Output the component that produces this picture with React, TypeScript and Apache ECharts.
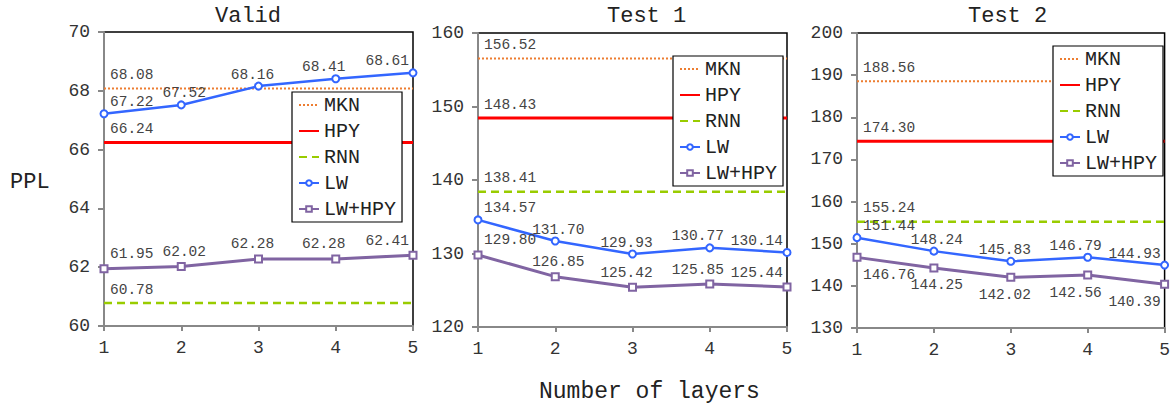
import React, { useEffect, useRef } from "react";
import * as echarts from "echarts";

const layers = ["1", "2", "3", "4", "5"];
const panelTitles = ["Valid", "Test 1", "Test 2"];
const seriesNames = ["MKN", "HPY", "RNN", "LW", "LW+HPY"];

// baselines per panel [Valid, Test 1, Test 2]
const mkn = [68.08, 156.52, 188.56];
const hpy = [66.24, 148.43, 174.3];
const rnn = [60.78, 138.41, 155.24];

const lwValid = [67.22, 67.52, 68.16, 68.41, 68.61];
const lwTest1 = [134.57, 131.7, 129.93, 130.77, 130.14];
const lwTest2 = [151.44, 148.24, 145.83, 146.79, 144.93];

const lwHpyValid = [61.95, 62.02, 62.28, 62.28, 62.41];
const lwHpyTest1 = [129.8, 126.85, 125.42, 125.85, 125.44];
const lwHpyTest2 = [146.76, 144.25, 142.02, 142.56, 140.39];

const yMin = [60, 120, 130];
const yMax = [70, 160, 200];
const yStep = [2, 10, 10];

const FONT = "Liberation Mono";
const COLORS = {
  MKN: "#ED7D31",
  HPY: "#FF0000",
  RNN: "#99CC00",
  LW: "#3366FF",
  "LW+HPY": "#8064A2",
};

const GRIDS = [
  { left: 104, top: 32, width: 309, height: 294 },
  { left: 478, top: 33, width: 309, height: 294 },
  { left: 857, top: 33, width: 309, height: 295 },
];
const LEGEND_POS = [
  { left: 292, top: 92 },
  { left: 673, top: 56 },
  { left: 1053, top: 46 },
];
const TITLE_LEFT = [215, 607, 968];

const LABEL_ALIGN = ["left", "center", "center", "center", "right"];
const LABEL_DX = [6, 3, -6, -12, -4];

function pointLabels(values: number[], position: string, distance: number) {
  return values.map((v, i) => ({
    value: v,
    label: {
      show: true,
      position,
      distance,
      align: LABEL_ALIGN[i],
      offset: [LABEL_DX[i], 0],
      formatter: v.toFixed(2),
    },
  }));
}

function baselineData(v: number) {
  return layers.map((_, i) =>
    i === 0
      ? {
          value: v,
          symbol: "circle",
          symbolSize: 1,
          itemStyle: { color: "transparent" },
          label: {
            show: true,
            position: "top",
            distance: 6,
            align: "left",
            offset: [6, 0],
            formatter: v.toFixed(2),
          },
        }
      : v
  );
}

export default function App() {
  const ref = useRef<HTMLDivElement>(null);
  useEffect(() => {
    if (!ref.current) return;
    const chart = echarts.init(ref.current, null, { renderer: "svg" });
    const lw = [lwValid, lwTest1, lwTest2];
    const lwh = [lwHpyValid, lwHpyTest1, lwHpyTest2];
    const lwhPos = ["top", "top", "bottom"];
    const labelStyle = { fontFamily: FONT, fontSize: 14.5, lineHeight: 14, color: "#444" };

    const series: any[] = [];
    for (let p = 0; p < 3; p++) {
      const common = { type: "line", xAxisIndex: p, yAxisIndex: p, label: labelStyle };
      series.push({
        ...common,
        name: "MKN",
        symbol: "none",
        data: baselineData(mkn[p]),
        lineStyle: { color: COLORS.MKN, width: 2, type: "dotted" },
        itemStyle: { color: COLORS.MKN },
        z: 2,
      });
      series.push({
        ...common,
        name: "HPY",
        symbol: "none",
        data: baselineData(hpy[p]),
        lineStyle: { color: COLORS.HPY, width: 3 },
        itemStyle: { color: COLORS.HPY },
        z: 2,
      });
      series.push({
        ...common,
        name: "RNN",
        symbol: "none",
        data: baselineData(rnn[p]),
        lineStyle: { color: COLORS.RNN, width: 2.5, type: [8, 5] },
        itemStyle: { color: COLORS.RNN },
        z: 2,
      });
      series.push({
        ...common,
        name: "LW",
        symbol: "emptyCircle",
        symbolSize: 7,
        data: pointLabels(lw[p], "top", 0),
        lineStyle: { color: COLORS.LW, width: 2.5 },
        itemStyle: { color: COLORS.LW, borderWidth: 1.5 },
        z: 3,
      });
      series.push({
        ...common,
        name: "LW+HPY",
        symbol: "emptyRect",
        symbolSize: 7,
        data: pointLabels(lwh[p], lwhPos[p], lwhPos[p] === "bottom" ? 6 : 3),
        lineStyle: { color: COLORS["LW+HPY"], width: 3 },
        itemStyle: { color: COLORS["LW+HPY"], borderWidth: 1.5 },
        z: 3,
      });
    }

    const titles: any[] = panelTitles.map((t, p) => ({
      text: t,
      left: TITLE_LEFT[p],
      top: 5,
      padding: 0,
      textStyle: { fontFamily: FONT, fontSize: 22, fontWeight: "normal", color: "#222" },
    }));
    titles.push({
      text: "PPL",
      left: 10,
      top: 171,
      padding: 0,
      textStyle: { fontFamily: FONT, fontSize: 22, fontWeight: "normal", color: "#222" },
    });
    titles.push({
      text: "Number of layers",
      left: 539,
      top: 380,
      padding: 0,
      textStyle: { fontFamily: FONT, fontSize: 23, fontWeight: "normal", color: "#222" },
    });

    chart.setOption({
      animation: false,
      backgroundColor: "#fff",
      title: titles,
      grid: GRIDS.map((g) => ({
        ...g,
        show: true,
        borderColor: "#000",
        borderWidth: 1.5,
        backgroundColor: "transparent",
      })),
      legend: LEGEND_POS.map((lp) => ({
        ...lp,
        orient: "vertical",
        padding: [3, 6],
        itemGap: 6,
        itemWidth: 20,
        itemHeight: 7,
        backgroundColor: "#fff",
        borderColor: "#000",
        borderWidth: 1.2,
        borderRadius: 0,
        selectedMode: false,
        textStyle: { fontFamily: FONT, fontSize: 20, lineHeight: 20, color: "#222" },
        data: seriesNames.map((n, i) =>
          i < 3 ? { name: n, itemStyle: { opacity: 0 } } : { name: n }
        ),
      })),
      xAxis: GRIDS.map((_, p) => ({
        type: "category",
        gridIndex: p,
        data: layers,
        boundaryGap: false,
        axisLine: { lineStyle: { color: "#888", width: 2 } },
        axisTick: { show: true, length: 5, lineStyle: { color: "#888", width: 2 } },
        axisLabel: { fontFamily: FONT, fontSize: 18, color: "#333", margin: 13 },
        splitLine: { show: false },
      })),
      yAxis: GRIDS.map((_, p) => ({
        type: "value",
        gridIndex: p,
        min: yMin[p],
        max: yMax[p],
        interval: yStep[p],
        axisLine: { show: true, lineStyle: { color: "#888", width: 2 } },
        axisTick: { show: true, length: 6, lineStyle: { color: "#888", width: 2 } },
        axisLabel: { fontFamily: FONT, fontSize: 18, color: "#333", margin: 14 },
        splitLine: { show: false },
      })),
      series,
    });
    return () => chart.dispose();
  }, []);
  return (
    <div
      ref={ref}
      style={{ position: "fixed", left: 0, top: 0, width: 1173, height: 407 }}
    />
  );
}
